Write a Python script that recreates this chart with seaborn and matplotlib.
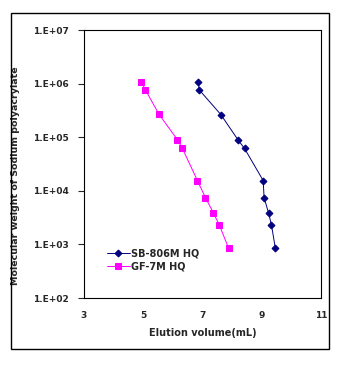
import matplotlib
matplotlib.use("Agg")
import math
import matplotlib.pyplot as plt
import seaborn as sns
import pandas as pd
from matplotlib.patches import Rectangle
from matplotlib.ticker import FixedLocator, FuncFormatter, NullLocator

sb_volume = [6.86, 6.89, 7.62, 8.21, 8.42, 9.05, 9.08, 9.23, 9.33, 9.46]
sb_mw = [1.08e6, 7.7e5, 2.66e5, 8.8e4, 6.2e4, 1.56e4, 7.5e3, 3.9e3, 2.3e3, 850]
gf_volume = [4.94, 5.07, 5.53, 6.15, 6.32, 6.83, 7.10, 7.37, 7.57, 7.88]
gf_mw = [1.08e6, 7.8e5, 2.7e5, 9.1e4, 6.25e4, 1.56e4, 7.5e3, 3.9e3, 2.3e3, 860]
series_names = ["SB-806M HQ", "GF-7M HQ"]
x_ticks = [3, 5, 7, 9, 11]
y_ticks = [1e2, 1e3, 1e4, 1e5, 1e6, 1e7]

sns.set_style("white")
plt.rcParams['font.family'] = ['DejaVu Sans']

fig = plt.figure(figsize=(3.4, 3.68), dpi=100)
ax = fig.add_axes([0.247, 0.190, 0.697, 0.728])

fig.patches.append(Rectangle((0.032, 0.052), 0.935, 0.913, transform=fig.transFigure,
                             fill=False, edgecolor='black', linewidth=1.0))

df_sb = pd.DataFrame({"vol": sb_volume, "mw": sb_mw})
df_gf = pd.DataFrame({"vol": gf_volume, "mw": gf_mw})

sns.lineplot(data=df_sb, x="vol", y="mw", ax=ax, color="#000080", marker="D",
             markersize=3.5, markeredgecolor="#000080", linewidth=0.7,
             label=series_names[0], sort=False)
sns.lineplot(data=df_gf, x="vol", y="mw", ax=ax, color="#FF00FF", marker="s",
             markersize=4.5, markeredgecolor="#FF00FF", linewidth=0.7,
             label=series_names[1], sort=False)

ax.set_yscale("log")
ax.set_xlim(3, 11)
ax.set_ylim(1e2, 1e7)
ax.xaxis.set_major_locator(FixedLocator(x_ticks))
ax.yaxis.set_major_locator(FixedLocator(y_ticks))
ax.yaxis.set_minor_locator(NullLocator())
ax.xaxis.set_minor_locator(NullLocator())
ax.yaxis.set_major_formatter(FuncFormatter(lambda v, p: "1.E+%02d" % round(math.log10(v))))
ax.xaxis.set_major_formatter(FuncFormatter(lambda v, p: "%d" % v))

ax.tick_params(axis='y', direction='out', length=4, width=0.8, labelsize=6.5, pad=7, left=True)
ax.tick_params(axis='x', length=0, labelsize=6.5, pad=9)
for lab in ax.get_xticklabels() + ax.get_yticklabels():
    lab.set_fontweight('bold')

for s in ax.spines.values():
    s.set_color('black')
    s.set_linewidth(0.8)

ax.set_xlabel("Elution volume(mL)", fontsize=7, fontweight='bold', labelpad=6)
ax.set_ylabel("Molecular weight of Sodium polyacrylate", fontsize=6.8, fontweight='bold', labelpad=10)
ax.yaxis.set_label_coords(-0.27, 0.455)

leg = ax.legend(loc='lower left', bbox_to_anchor=(0.08, 0.085), frameon=False,
                fontsize=7, handlelength=2.4, handletextpad=0.1, labelspacing=0.35,
                borderaxespad=0)
for t in leg.get_texts():
    t.set_fontweight('bold')

fig.savefig("out.png", dpi=100, facecolor='white')
